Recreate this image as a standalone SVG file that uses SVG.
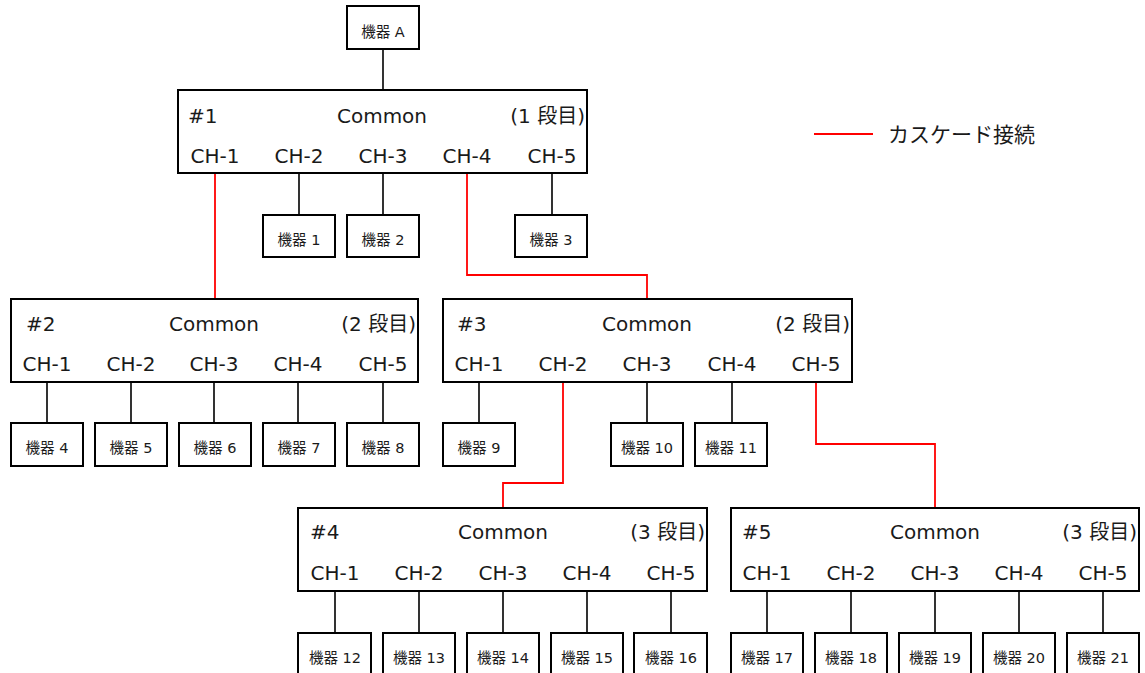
<svg xmlns="http://www.w3.org/2000/svg" width="1145" height="673" viewBox="0 0 1145 673">
<style>
.box{fill:#fff;stroke:#000;stroke-width:2}
.ln{fill:none;stroke:#000;stroke-width:1.6}
.red{fill:none;stroke:#ff0000;stroke-width:1.8}
text{font-family:"DejaVu Sans","Noto Sans CJK JP",sans-serif;fill:#1a1a1a}
.t{font-size:20px}
.lg{font-size:21px}
.c{text-anchor:middle}
.e{text-anchor:end}
.d{font-size:14.5px;text-anchor:middle}
</style>
<rect width="1145" height="673" fill="#fff"/>
<g id="connectors">
<path class="ln" d="M383 49V90"/>
<path class="ln" d="M299 173V215M383 173V215M552 173V215"/>
<path class="red" d="M215 173V299"/>
<path class="red" d="M467 173V275H647V299"/>
<path class="ln" d="M47 382V423M131 382V423M214 382V423M298 382V423M383 382V423"/>
<path class="ln" d="M479 382V423M647 382V423M732 382V423"/>
<path class="red" d="M563 382V483H503V508"/>
<path class="red" d="M816 382V444H935V508"/>
<path class="ln" d="M335 591V633M419 591V633M503 591V633M587 591V633M671 591V633"/>
<path class="ln" d="M767 591V633M851 591V633M935 591V633M1019 591V633M1103 591V633"/>
</g>
<g id="legend">
<line class="red" x1="814" y1="134" x2="873" y2="134"/>
<text class="lg" x="888" y="142">カスケード接続</text>
</g>
<g id="devA"><rect class="box" x="347" y="6" width="72" height="43"/><text class="d" x="383" y="37">機器 A</text></g>
<g id="cas1">
<rect class="box" x="178" y="90" width="409" height="83"/>
<text class="t" x="188" y="123">#1</text>
<text class="t c" x="382" y="123">Common</text>
<text class="t e" x="585" y="123">(1 段目)</text>
<text class="t c" x="215" y="163">CH-1</text><text class="t c" x="299" y="163">CH-2</text><text class="t c" x="383" y="163">CH-3</text><text class="t c" x="467" y="163">CH-4</text><text class="t c" x="552" y="163">CH-5</text>
</g>
<g id="dev1"><rect class="box" x="263" y="215" width="72" height="42"/><text class="d" x="299" y="245">機器 1</text></g>
<g id="dev2"><rect class="box" x="347" y="215" width="72" height="42"/><text class="d" x="383" y="245">機器 2</text></g>
<g id="dev3"><rect class="box" x="515" y="215" width="72" height="42"/><text class="d" x="551" y="245">機器 3</text></g>
<g id="cas2">
<rect class="box" x="11" y="299" width="407" height="83"/>
<text class="t" x="26" y="331">#2</text>
<text class="t c" x="214" y="331">Common</text>
<text class="t e" x="416" y="331">(2 段目)</text>
<text class="t c" x="47" y="371">CH-1</text><text class="t c" x="131" y="371">CH-2</text><text class="t c" x="214" y="371">CH-3</text><text class="t c" x="298" y="371">CH-4</text><text class="t c" x="383" y="371">CH-5</text>
</g>
<g id="cas3">
<rect class="box" x="443" y="299" width="409" height="83"/>
<text class="t" x="457" y="331">#3</text>
<text class="t c" x="647" y="331">Common</text>
<text class="t e" x="850" y="331">(2 段目)</text>
<text class="t c" x="479" y="371">CH-1</text><text class="t c" x="563" y="371">CH-2</text><text class="t c" x="647" y="371">CH-3</text><text class="t c" x="732" y="371">CH-4</text><text class="t c" x="816" y="371">CH-5</text>
</g>
<g id="dev4"><rect class="box" x="11" y="423" width="72" height="43"/><text class="d" x="47" y="453">機器 4</text></g>
<g id="dev5"><rect class="box" x="95" y="423" width="72" height="43"/><text class="d" x="131" y="453">機器 5</text></g>
<g id="dev6"><rect class="box" x="179" y="423" width="72" height="43"/><text class="d" x="215" y="453">機器 6</text></g>
<g id="dev7"><rect class="box" x="263" y="423" width="72" height="43"/><text class="d" x="299" y="453">機器 7</text></g>
<g id="dev8"><rect class="box" x="347" y="423" width="72" height="43"/><text class="d" x="383" y="453">機器 8</text></g>
<g id="dev9"><rect class="box" x="443" y="423" width="72" height="43"/><text class="d" x="479" y="453">機器 9</text></g>
<g id="dev10"><rect class="box" x="611" y="423" width="72" height="43"/><text class="d" x="647" y="453">機器 10</text></g>
<g id="dev11"><rect class="box" x="695" y="423" width="72" height="43"/><text class="d" x="731" y="453">機器 11</text></g>
<g id="cas4">
<rect class="box" x="298" y="508" width="409" height="83"/>
<text class="t" x="310" y="539">#4</text>
<text class="t c" x="503" y="539">Common</text>
<text class="t e" x="705" y="539">(3 段目)</text>
<text class="t c" x="335" y="580">CH-1</text><text class="t c" x="419" y="580">CH-2</text><text class="t c" x="503" y="580">CH-3</text><text class="t c" x="587" y="580">CH-4</text><text class="t c" x="671" y="580">CH-5</text>
</g>
<g id="cas5">
<rect class="box" x="731" y="508" width="408" height="83"/>
<text class="t" x="742" y="539">#5</text>
<text class="t c" x="935" y="539">Common</text>
<text class="t e" x="1137" y="539">(3 段目)</text>
<text class="t c" x="767" y="580">CH-1</text><text class="t c" x="851" y="580">CH-2</text><text class="t c" x="935" y="580">CH-3</text><text class="t c" x="1019" y="580">CH-4</text><text class="t c" x="1103" y="580">CH-5</text>
</g>
<g id="dev12"><rect class="box" x="298" y="633" width="73" height="45"/><text class="d" x="335" y="663">機器 12</text></g>
<g id="dev13"><rect class="box" x="383" y="633" width="72" height="45"/><text class="d" x="419" y="663">機器 13</text></g>
<g id="dev14"><rect class="box" x="467" y="633" width="72" height="45"/><text class="d" x="503" y="663">機器 14</text></g>
<g id="dev15"><rect class="box" x="551" y="633" width="72" height="45"/><text class="d" x="587" y="663">機器 15</text></g>
<g id="dev16"><rect class="box" x="634" y="633" width="73" height="45"/><text class="d" x="671" y="663">機器 16</text></g>
<g id="dev17"><rect class="box" x="731" y="633" width="72" height="45"/><text class="d" x="767" y="663">機器 17</text></g>
<g id="dev18"><rect class="box" x="815" y="633" width="72" height="45"/><text class="d" x="851" y="663">機器 18</text></g>
<g id="dev19"><rect class="box" x="899" y="633" width="72" height="45"/><text class="d" x="935" y="663">機器 19</text></g>
<g id="dev20"><rect class="box" x="983" y="633" width="72" height="45"/><text class="d" x="1019" y="663">機器 20</text></g>
<g id="dev21"><rect class="box" x="1067" y="633" width="72" height="45"/><text class="d" x="1103" y="663">機器 21</text></g>
</svg>
